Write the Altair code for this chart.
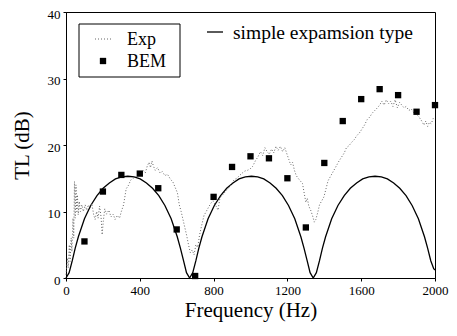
import altair as alt
import pandas as pd

# ---- data ----
exp_freq = [0, 8, 12, 18, 22, 28, 32, 38, 42, 46, 50, 54, 58, 62, 66, 72, 78, 86, 94, 104,
            112, 122, 132, 140, 150, 158, 166, 174, 182, 190, 196, 202, 210, 220, 232, 244,
            256, 266, 278, 290, 300, 312, 326, 340, 350, 364, 378, 392, 405, 418, 430, 440,
            450, 458, 466, 474, 484, 496, 510, 522, 536, 550, 565, 580, 592, 604, 614, 624,
            634, 644, 654, 664, 674, 684, 694, 704, 714, 724, 736, 748, 760, 772, 784, 797,
            810, 824, 834, 846, 858, 870, 884, 898, 912, 926, 940, 956, 970, 984, 998, 1012,
            1026, 1040, 1054, 1066, 1078, 1090, 1102, 1114, 1126, 1138, 1150, 1162, 1174,
            1186, 1198, 1208, 1218, 1228, 1238, 1248, 1258, 1270, 1282, 1292, 1300, 1308,
            1316, 1326, 1336, 1346, 1354, 1364, 1374, 1386, 1398, 1410, 1420, 1432, 1444,
            1456, 1468, 1480, 1494, 1508, 1520, 1534, 1548, 1562, 1576, 1590, 1604, 1618,
            1632, 1646, 1660, 1674, 1688, 1700, 1712, 1724, 1736, 1748, 1760, 1772, 1784,
            1796, 1808, 1820, 1832, 1844, 1858, 1872, 1886, 1900, 1914, 1928, 1940, 1950,
            1960, 1970, 1980, 1990, 2000]
exp_tl = [0.5, 3, 1.5, 5, 2.5, 6, 4, 9, 6, 14.5, 9, 14, 10, 12.5, 9.5, 11.5, 10, 11, 10, 11,
          10.2, 11, 10.5, 11.2, 9.5, 8.8, 10, 9, 10.8, 9.2, 6.5, 8.5, 10.4, 9.6, 10.2, 9.2,
          9.6, 8.8, 9.4, 9, 10, 11, 13.4, 14, 14.7, 15, 15.2, 15.6, 15.5, 16.2, 15.8, 16.8,
          17.4, 16.6, 17.6, 16.8, 16.2, 16.6, 15.8, 16, 15.4, 15.6, 14.9, 14.4, 13.6, 12.8,
          11, 10, 8.8, 7.6, 6.4, 5, 3.8, 4.2, 3.5, 5, 4.6, 6.5, 8, 9.4, 10, 10.6, 11.2, 11.6,
          11, 10.2, 12, 12.4, 12.8, 13.2, 13.6, 14.2, 14.8, 15, 15.4, 15.8, 16.1, 16.2, 16.4,
          16.8, 17.6, 18.2, 19, 18.4, 19.6, 19, 18.6, 19.4, 18.8, 19.8, 19.2, 19.8, 19, 19.6,
          18.6, 17.8, 17, 17.4, 16.2, 15.4, 15, 14.6, 14.2, 12.6, 11.4, 12, 10.8, 10.2, 9.4,
          8.4, 8.8, 9.8, 11, 11.6, 12.2, 13.5, 14.6, 15.2, 15.8, 16.4, 17, 17.6, 18.2, 18.8,
          19.6, 19.9, 20.4, 20.8, 21.4, 21.8, 22.4, 23, 23.8, 24.2, 24.8, 25.2, 25.6, 26,
          26.6, 26, 26.8, 26.2, 26.6, 25.8, 26.8, 25.6, 26.4, 26, 25.6, 25.8, 25.2, 25.4,
          24.8, 24.6, 24.2, 23.6, 23, 23.6, 22.8, 23.4, 23.2, 24, 23.8]

bem_freq = [100, 200, 300, 400, 500, 600, 700, 800, 900, 1000, 1100, 1200, 1300, 1400,
            1500, 1600, 1700, 1800, 1900, 2000]
bem_tl = [5.5, 13.0, 15.5, 15.7, 13.5, 7.3, 0.3, 12.2, 16.7, 18.3, 18.0, 15.0, 7.6, 17.3,
          23.6, 26.9, 28.4, 27.5, 25.0, 26.0]

simple_freq = [0, 17, 34, 50, 67, 100, 134, 168, 201, 235, 268, 302, 335, 369, 402, 436,
               469, 503, 536, 570, 603, 620, 637, 653, 670, 687, 704, 720, 737, 770, 804,
               838, 871, 905, 938, 972, 1005, 1039, 1072, 1106, 1139, 1173, 1206, 1240, 1273,
               1290, 1307, 1323, 1340, 1357, 1374, 1390, 1407, 1440, 1474, 1508, 1541, 1575,
               1608, 1642, 1675, 1709, 1742, 1776, 1809, 1843, 1876, 1910, 1943, 1960, 1977,
               1993, 2000]
simple_tl = [0, 0.8, 2.6, 4.5, 6.2, 8.9, 10.9, 12.4, 13.5, 14.3, 14.9, 15.2, 15.3, 15.2,
             14.9, 14.3, 13.5, 12.4, 10.9, 8.9, 6.2, 4.5, 2.6, 0.8, 0, 0.8, 2.6, 4.5, 6.2,
             8.9, 10.9, 12.4, 13.5, 14.3, 14.9, 15.2, 15.3, 15.2, 14.9, 14.3, 13.5, 12.4,
             10.9, 8.9, 6.2, 4.5, 2.6, 0.8, 0, 0.8, 2.6, 4.5, 6.2, 8.9, 10.9, 12.4, 13.5,
             14.3, 14.9, 15.2, 15.3, 15.2, 14.9, 14.3, 13.5, 12.4, 10.9, 8.9, 6.2, 4.5, 2.6,
             1.4, 1.2]

x_ticks = list(range(0, 2001, 200))
y_ticks = list(range(0, 41, 5))

FONT = "Liberation Serif"

exp_df = pd.DataFrame({"f": exp_freq, "tl": exp_tl})
bem_df = pd.DataFrame({"f": bem_freq, "tl": bem_tl})
sim_df = pd.DataFrame({"f": simple_freq, "tl": simple_tl})

xscale = alt.Scale(domain=[0, 2000], nice=False)
yscale = alt.Scale(domain=[0, 40], nice=False)

x_axis = alt.Axis(values=x_ticks, labelExpr="datum.value % 400 == 0 ? datum.label : ''",
                  title="Frequency (Hz)", grid=False, tickSize=3, labelPadding=3,
                  titlePadding=2, format="d", labelFont=FONT, titleFont=FONT)
y_axis = alt.Axis(values=y_ticks, labelExpr="datum.value % 10 == 0 ? datum.label : ''",
                  title="TL (dB)", grid=False, tickSize=3, labelPadding=3, labelOffset=2,
                  titlePadding=15, labelFont=FONT, titleFont=FONT)

X = alt.X("f:Q", scale=xscale, axis=x_axis)
Y = alt.Y("tl:Q", scale=yscale, axis=y_axis)

simple = alt.Chart(sim_df).mark_line(color="black", strokeWidth=1.3).encode(x=X, y=Y)
exp = alt.Chart(exp_df).mark_line(color="#666666", strokeWidth=1, strokeDash=[1, 2]).encode(
    x=alt.X("f:Q", scale=xscale), y=alt.Y("tl:Q", scale=yscale))
bem = alt.Chart(bem_df).mark_square(color="black", size=40, opacity=1).encode(
    x=alt.X("f:Q", scale=xscale), y=alt.Y("tl:Q", scale=yscale))

# legend (annotation, in pixel space)
one = pd.DataFrame({"a": [0]})
box = alt.Chart(one).mark_rect(fill="white", stroke="black", strokeWidth=1).encode(
    x=alt.value(13), x2=alt.value(114), y=alt.value(12), y2=alt.value(65))
exp_sample = alt.Chart(one).mark_rule(color="#666666", strokeDash=[1, 2], strokeWidth=1).encode(
    x=alt.value(29), x2=alt.value(46), y=alt.value(27))
bem_sample = alt.Chart(one).mark_square(color="black", size=40, opacity=1).encode(
    x=alt.value(37), y=alt.value(49))
sim_sample = alt.Chart(one).mark_rule(color="black", strokeWidth=1.3).encode(
    x=alt.value(141), x2=alt.value(157), y=alt.value(20))
txt_kw = dict(font=FONT, align="left", baseline="middle", color="black")
exp_txt = alt.Chart(one).mark_text(text="Exp", fontSize=18, **txt_kw).encode(
    x=alt.value(61), y=alt.value(28))
bem_txt = alt.Chart(one).mark_text(text="BEM", fontSize=18, **txt_kw).encode(
    x=alt.value(61), y=alt.value(50))
sim_txt = alt.Chart(one).mark_text(text="simple expamsion type", fontSize=19.5, **txt_kw).encode(
    x=alt.value(167), y=alt.value(21))

chart = alt.layer(simple, exp, bem, box, exp_sample, bem_sample, exp_txt, bem_txt,
                  sim_sample, sim_txt).properties(
    width=369, height=266,
    autosize=alt.AutoSizeParams(type="none"),
    padding={"left": 58, "top": 4, "right": 14, "bottom": 44},
).configure(font=FONT).configure_view(stroke="black", strokeWidth=1).configure_axis(
    labelFont=FONT, titleFont=FONT, labelFontSize=13, titleFontSize=21,
    titleFontWeight="normal", labelColor="black", titleColor="black",
    domainColor="black", tickColor="black", domainWidth=1, labelFlush=False,
    labelOverlap=False,
)

chart.save("out.html", embed_options={"renderer": "svg", "actions": False})
